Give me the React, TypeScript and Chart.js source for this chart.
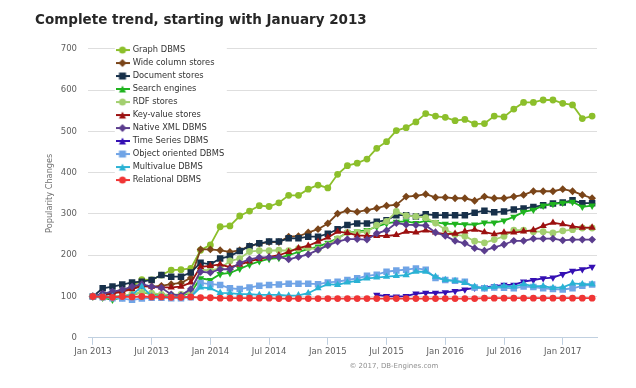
import React, { useEffect, useRef } from 'react';
import { Chart, registerables } from 'chart.js';

Chart.register(...registerables);

const categories = [
  'Jan 2013', 'Feb 2013', 'Mar 2013', 'Apr 2013', 'May 2013', 'Jun 2013', 'Jul 2013', 'Aug 2013', 'Sep 2013', 'Oct 2013', 'Nov 2013', 'Dec 2013',
  'Jan 2014', 'Feb 2014', 'Mar 2014', 'Apr 2014', 'May 2014', 'Jun 2014', 'Jul 2014', 'Aug 2014', 'Sep 2014', 'Oct 2014', 'Nov 2014', 'Dec 2014',
  'Jan 2015', 'Feb 2015', 'Mar 2015', 'Apr 2015', 'May 2015', 'Jun 2015', 'Jul 2015', 'Aug 2015', 'Sep 2015', 'Oct 2015', 'Nov 2015', 'Dec 2015',
  'Jan 2016', 'Feb 2016', 'Mar 2016', 'Apr 2016', 'May 2016', 'Jun 2016', 'Jul 2016', 'Aug 2016', 'Sep 2016', 'Oct 2016', 'Nov 2016', 'Dec 2016',
  'Jan 2017', 'Feb 2017', 'Mar 2017', 'Apr 2017',
];

const tickLabels = ['Jan 2013', 'Jul 2013', 'Jan 2014', 'Jul 2014', 'Jan 2015', 'Jul 2015', 'Jan 2016', 'Jul 2016', 'Jan 2017'];

const graphDBMS = [
  100, 103, 108, 114, 124, 141, 140, 152, 164, 165, 168, 212,
  225, 269, 271, 295, 307, 320, 318, 327, 345, 345, 360, 370,
  363, 396, 417, 423, 433, 459, 475, 502, 509, 523, 543, 537,
  534, 526, 529, 518, 519, 537, 535, 554, 570, 570, 576, 576,
  568, 564, 531, 537,
];
const wideColumn = [
  100, 106, 110, 115, 120, 126, 124, 126, 130, 133, 145, 214,
  214, 212, 208, 212, 222, 228, 232, 232, 245, 246, 255, 263,
  277, 301, 308, 305, 309, 314, 320, 322, 342, 344, 348, 340,
  340, 338, 338, 332, 342, 338, 338, 342, 346, 355, 355, 355,
  360, 355, 346, 338,
];
const documentStores = [
  100, 120, 124, 129, 134, 136, 140, 152, 148, 148, 158, 182,
  178, 192, 198, 210, 222, 229, 233, 233, 241, 241, 245, 245,
  252, 263, 273, 277, 277, 281, 285, 297, 297, 294, 299, 297,
  297, 297, 297, 303, 308, 304, 306, 311, 313, 317, 321, 325,
  328, 333, 326, 326,
];
const searchEngines = [
  100, 97, 92, 98, 104, 110, 106, 103, 100, 101, 110, 144,
  140, 154, 157, 167, 177, 185, 191, 193, 200, 208, 215, 221,
  230, 241, 255, 257, 261, 269, 277, 281, 282, 278, 283, 280,
  276, 276, 275, 274, 279, 279, 284, 293, 305, 310, 320, 324,
  327, 329, 317, 320,
];
const rdfStores = [
  100, 98, 100, 102, 105, 110, 108, 105, 104, 105, 110, 165,
  163, 168, 186, 192, 209, 211, 211, 212, 211, 216, 218, 214,
  225, 240, 255, 255, 257, 273, 282, 306, 296, 294, 291, 278,
  262, 250, 246, 234, 230, 238, 246, 261, 261, 257, 257, 254,
  259, 262, 266, 266,
];
const keyValue = [
  100, 103, 107, 112, 118, 125, 124, 122, 122, 124, 134, 172,
  174, 178, 171, 177, 185, 191, 196, 200, 208, 217, 223, 233,
  243, 257, 254, 248, 247, 247, 247, 249, 257, 255, 260, 255,
  251, 252, 258, 262, 256, 251, 255, 255, 258, 261, 271, 279,
  275, 270, 267, 267,
];
const nativeXML = [
  100, 107, 112, 116, 124, 130, 124, 121, 105, 103, 118, 160,
  158, 166, 166, 181, 190, 195, 195, 196, 190, 196, 202, 213,
  224, 233, 239, 239, 238, 253, 260, 278, 274, 273, 272, 255,
  247, 235, 229, 217, 211, 219, 226, 235, 235, 240, 240, 240,
  236, 238, 238, 238,
];
const timeSeries = [
  null, null, null, null, null, null, null, null, null, null, null, null,
  null, null, null, null, null, null, null, null, null, null, null, null,
  null, null, null, null, null, 104, 101, 100, 101, 107, 109, 109,
  110, 113, 117, 121, 122, 125, 128, 128, 136, 140, 144, 146,
  154, 162, 166, 172,
];
const objectOriented = [
  100, 98, 96, 95, 92, 95, 97, 97, 96, 96, 98, 133,
  130, 128, 120, 118, 122, 126, 128, 129, 131, 131, 131, 130,
  134, 136, 140, 144, 150, 153, 160, 163, 165, 168, 165, 145,
  140, 138, 136, 122, 120, 122, 121, 120, 124, 123, 120, 118,
  117, 120, 126, 129,
];
const multivalue = [
  100, 100, 99, 100, 104, 124, 101, 100, 99, 98, 99, 122,
  120, 109, 108, 106, 106, 104, 104, 104, 102, 103, 108, 120,
  130, 128, 134, 138, 144, 146, 148, 150, 152, 160, 160, 148,
  140, 138, 133, 124, 120, 123, 125, 124, 130, 125, 125, 121,
  122, 132, 130, 130,
];
const relational = [
  100, 99, 98, 100, 99, 100, 99, 99, 98, 98, 99, 97,
  97, 96, 96, 96, 96, 96, 96, 95, 95, 95, 95, 95,
  95, 95, 95, 95, 95, 95, 95, 95, 95, 95, 95, 95,
  95, 95, 95, 95, 96, 96, 96, 96, 96, 96, 96, 96,
  96, 96, 96, 96,
];

const SERIES = [
  { label: 'Graph DBMS', data: graphDBMS, color: '#8cbf2b', style: 'circle', rot: 0 },
  { label: 'Wide column stores', data: wideColumn, color: '#7a4519', style: 'rectRot', rot: 0 },
  { label: 'Document stores', data: documentStores, color: '#17304a', style: 'rect', rot: 0 },
  { label: 'Search engines', data: searchEngines, color: '#1fb31f', style: 'triangle', rot: 180 },
  { label: 'RDF stores', data: rdfStores, color: '#a3cf6f', style: 'circle', rot: 0 },
  { label: 'Key-value stores', data: keyValue, color: '#9c1010', style: 'triangle', rot: 0 },
  { label: 'Native XML DBMS', data: nativeXML, color: '#5b3d8e', style: 'rectRot', rot: 0 },
  { label: 'Time Series DBMS', data: timeSeries, color: '#3510b3', style: 'triangle', rot: 180 },
  { label: 'Object oriented DBMS', data: objectOriented, color: '#70a4e6', style: 'rect', rot: 0 },
  { label: 'Multivalue DBMS', data: multivalue, color: '#2ab2d4', style: 'triangle', rot: 0 },
  { label: 'Relational DBMS', data: relational, color: '#f03535', style: 'circle', rot: 0 },
];

const RADIUS: Record<string, number> = { circle: 3.4, rect: 4.6, rectRot: 3.9, triangle: 4.2 };
const FONT = '"DejaVu Sans", Verdana, sans-serif';

function makeSymbol(color: string, style: string, rot: number): HTMLCanvasElement {
  const c = document.createElement('canvas');
  c.width = 14;
  c.height = 10;
  const g = c.getContext('2d') as CanvasRenderingContext2D;
  g.strokeStyle = color;
  g.lineWidth = 2;
  g.beginPath();
  g.moveTo(0, 5);
  g.lineTo(14, 5);
  g.stroke();
  g.fillStyle = color;
  g.beginPath();
  const cx = 7, cy = 5, r = 3.5;
  if (style === 'circle') {
    g.arc(cx, cy, r, 0, Math.PI * 2);
  } else if (style === 'rect') {
    g.rect(cx - r, cy - r, 2 * r, 2 * r);
  } else if (style === 'rectRot') {
    g.moveTo(cx, cy - r - 0.5);
    g.lineTo(cx + r + 0.5, cy);
    g.lineTo(cx, cy + r + 0.5);
    g.lineTo(cx - r - 0.5, cy);
  } else if (rot === 180) {
    g.moveTo(cx - r, cy - r);
    g.lineTo(cx + r, cy - r);
    g.lineTo(cx, cy + r);
  } else {
    g.moveTo(cx, cy - r);
    g.lineTo(cx + r, cy + r);
    g.lineTo(cx - r, cy + r);
  }
  g.closePath();
  g.fill();
  return c;
}

const legendPlacer = {
  id: 'legendPlacer',
  afterLayout(chart: any) {
    const lg = chart.legend;
    if (!lg) return;
    const ca = chart.chartArea;
    lg.left = ca.left + 23.8;
    lg.top = ca.top - 7.6;
    lg.right = ca.right;
    lg.bottom = ca.bottom;
    if (!lg._bgPatched) {
      const orig = lg.draw.bind(lg);
      lg.draw = (area: any) => {
        const ctx = chart.ctx;
        ctx.save();
        ctx.fillStyle = '#ffffff';
        ctx.fillRect(lg.left + 3, lg.top + 1.5, 112, 145);
        ctx.restore();
        orig(area);
      };
      lg._bgPatched = true;
    }
  },
};

const credits = {
  id: 'credits',
  afterDraw(chart: any) {
    const ca = chart.chartArea;
    const ctx = chart.ctx;
    ctx.save();
    ctx.font = `7px ${FONT}`;
    ctx.fillStyle = '#909090';
    ctx.textAlign = 'center';
    ctx.textBaseline = 'middle';
    ctx.fillText('\u00a9 2017, DB-Engines.com', ca.left + (ca.right - ca.left) * 0.601, ca.bottom + 28);
    ctx.restore();
  },
};

export default function App() {
  const ref = useRef<HTMLCanvasElement | null>(null);

  useEffect(() => {
    if (!ref.current) return;
    const symbols = SERIES.map((s) => makeSymbol(s.color, s.style, s.rot));
    const chart = new Chart(ref.current, {
      type: 'line',
      data: {
        labels: categories,
        datasets: SERIES.map((s, i) => ({
          label: s.label,
          data: s.data as any,
          borderColor: s.color,
          backgroundColor: s.color,
          borderWidth: 1.8,
          pointStyle: s.style as any,
          pointRotation: s.rot,
          pointRadius: RADIUS[s.style],
          pointBackgroundColor: s.color,
          pointBorderWidth: 0,
          tension: 0,
          fill: false,
          spanGaps: false,
          order: -i,
        })),
      },
      options: {
        responsive: false,
        animation: false,
        devicePixelRatio: 1,
        events: [],
        layout: { padding: { left: 35, right: 39, top: 0, bottom: 0 } },
        plugins: {
          title: {
            display: true,
            text: 'Complete trend, starting with January 2013',
            align: 'start',
            color: '#272727',
            font: { family: FONT, size: 13.5, weight: 'bold' },
            padding: { top: 11.9, bottom: 20.7 },
          },
          legend: {
            position: 'chartArea' as any,
            align: 'start',
            labels: {
              usePointStyle: true,
              pointStyleWidth: 12,
              padding: 4.7,
              color: '#333333',
              font: { family: FONT, size: 8.3 },
              generateLabels: (c: any) => {
                const items = (Chart.defaults.plugins.legend.labels as any).generateLabels(c);
                return items.map((it: any) => ({ ...it, pointStyle: symbols[it.datasetIndex], lineWidth: 0 }));
              },
              sort: (a: any, b: any) => a.datasetIndex - b.datasetIndex,
            },
          },
          tooltip: { enabled: false },
        },
        scales: {
          x: {
            type: 'category',
            offset: true,
            grid: { display: true, drawOnChartArea: false, drawTicks: true, tickLength: 7, color: '#c0d0e0' },
            border: { display: true, color: '#c0d0e0' },
            ticks: { autoSkip: false, maxRotation: 0, minRotation: 0, padding: 2, color: '#606060', font: { family: FONT, size: 8.5 } },
            afterBuildTicks: (scale: any) => {
              scale.ticks = scale.ticks.filter((t: any) => tickLabels.includes(categories[t.value]));
            },
            afterFit: (scale: any) => {
              scale.height = 50.2;
            },
          },
          y: {
            min: 0,
            max: 700,
            ticks: { stepSize: 100, padding: 11, color: '#606060', font: { family: FONT, size: 8.5 } },
            grid: { color: '#dedede', drawTicks: false },
            border: { display: false },
            title: {
              display: true,
              text: 'Popularity Changes',
              color: '#707070',
              font: { family: FONT, size: 8.2 },
              padding: { top: 10, bottom: 0 },
            },
            afterFit: (scale: any) => {
              scale.width = 53;
            },
          },
        },
      } as any,
      plugins: [legendPlacer, credits],
    });
    return () => chart.destroy();
  }, []);

  return (
    <div style={{ position: 'fixed', left: 0, top: 0, width: 636, height: 388, background: '#ffffff' }}>
      <canvas ref={ref} width={636} height={388} style={{ display: 'block', width: 636, height: 388 }} />
    </div>
  );
}
